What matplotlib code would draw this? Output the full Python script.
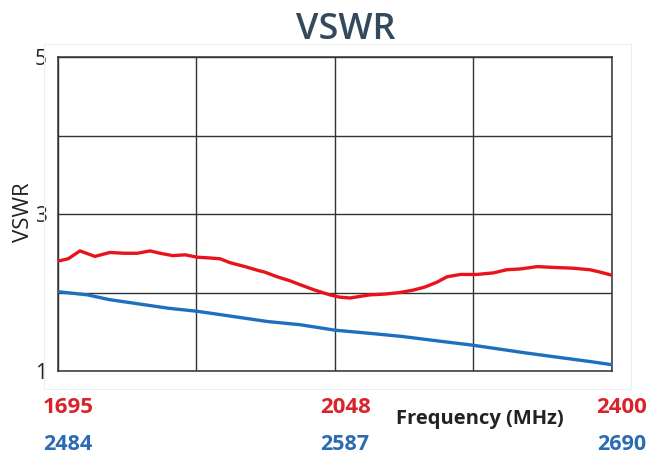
import matplotlib

matplotlib.use("Agg")

import matplotlib.pyplot as plt  # noqa: E402
from matplotlib.patches import Rectangle  # noqa: E402

plt.rcParams["font.family"] = ["Open Sans", "DejaVu Sans"]

# low band (red), MHz
red_freq = [1695, 1708, 1723, 1742, 1761, 1780, 1796, 1812, 1825, 1841,
            1857, 1872, 1888, 1901, 1914, 1933, 1950, 1958, 1974, 1990,
            2003, 2022, 2041, 2054, 2067, 2079, 2092, 2111, 2130, 2147,
            2162, 2177, 2190, 2207, 2228, 2249, 2266, 2283, 2305, 2325,
            2350, 2372, 2385, 2400]
red_vswr = [2.40, 2.43, 2.53, 2.46, 2.51, 2.50, 2.50, 2.53, 2.50, 2.47,
            2.48, 2.45, 2.44, 2.43, 2.38, 2.33, 2.28, 2.26, 2.20, 2.15,
            2.10, 2.03, 1.97, 1.94, 1.93, 1.95, 1.97, 1.98, 2.00, 2.03,
            2.07, 2.13, 2.20, 2.23, 2.23, 2.25, 2.29, 2.30, 2.33, 2.32,
            2.31, 2.29, 2.26, 2.22]

# high band (blue), MHz
blue_freq = [2484, 2495, 2503, 2515, 2525, 2536, 2548, 2562, 2574, 2587,
             2600, 2612, 2626, 2638, 2648, 2658, 2671, 2682, 2690]
blue_vswr = [2.01, 1.97, 1.91, 1.85, 1.80, 1.76, 1.70, 1.63, 1.59, 1.52,
             1.48, 1.44, 1.38, 1.33, 1.28, 1.23, 1.17, 1.12, 1.08]

red_ticks = [1695, 2048, 2400]
blue_ticks = [2484, 2587, 2690]
y_ticks = [1, 2, 3, 4, 5]
y_labels = ["1", "", "3", "", "5"]

RED = "#e8141c"
BLUE = "#1f6fc0"
RED_TXT = "#d9232b"
BLUE_TXT = "#2a6bb3"
GRID = "#333333"

fig = plt.figure(figsize=(6.5, 4.54), dpi=100)
fig.patches.append(Rectangle((44 / 650, 1 - 389 / 454), 587 / 650, 345 / 454,
                             transform=fig.transFigure, facecolor="none",
                             edgecolor="#eeeeee", linewidth=0.8))

ax = fig.add_axes([0.0892, 0.1828, 0.8523, 0.6916])
ax.set_xlim(red_freq[0], red_freq[-1])
ax.set_ylim(1, 5)
ax.set_yticks(y_ticks, labels=y_labels)
ax.set_xticks([1695 + i * (2400 - 1695) / 4 for i in range(5)])
ax.tick_params(axis="x", length=0, labelbottom=False)
ax.tick_params(axis="y", length=0, pad=8, labelsize=15, labelcolor="#222222")
ax.grid(True, color=GRID, linewidth=1.0)
for s in ax.spines.values():
    s.set_color(GRID)
    s.set_linewidth(1.1)

ax.plot(red_freq, red_vswr, color=RED, linewidth=2.4, zorder=3)

# blue band has its own frequency scale across the same width
ax2 = ax.twiny()
ax2.set_xlim(blue_freq[0], blue_freq[-1])
ax2.set_xticks([])
ax2.plot(blue_freq, blue_vswr, color=BLUE, linewidth=2.4, zorder=3)
for s in ax2.spines.values():
    s.set_visible(False)

for f in red_ticks:
    ax.annotate(str(f), xy=(f, 0), xycoords=("data", "axes fraction"),
                xytext=(7, -26), textcoords="offset points", ha="center",
                va="center", fontsize=16, fontweight="bold", color=RED_TXT)
for f in blue_ticks:
    ax2.annotate(str(f), xy=(f, 0), xycoords=("data", "axes fraction"),
                 xytext=(7, -53), textcoords="offset points", ha="center",
                 va="center", fontsize=15.5, fontweight="bold", color=BLUE_TXT)

ax.text(0.762, -0.153, "Frequency (MHz)", transform=ax.transAxes,
        ha="center", va="center", fontsize=14.5, fontweight="bold",
        color="#222222")
ax.text(-0.062, 0.506, "VSWR", transform=ax.transAxes, rotation=90,
        ha="center", va="center", fontsize=16, color="#222222")

fig.text(0.532, 0.934, "VSWR", ha="center", va="center", fontsize=26,
         fontweight="semibold", color="#34495e")

fig.savefig("out.png", dpi=100)
